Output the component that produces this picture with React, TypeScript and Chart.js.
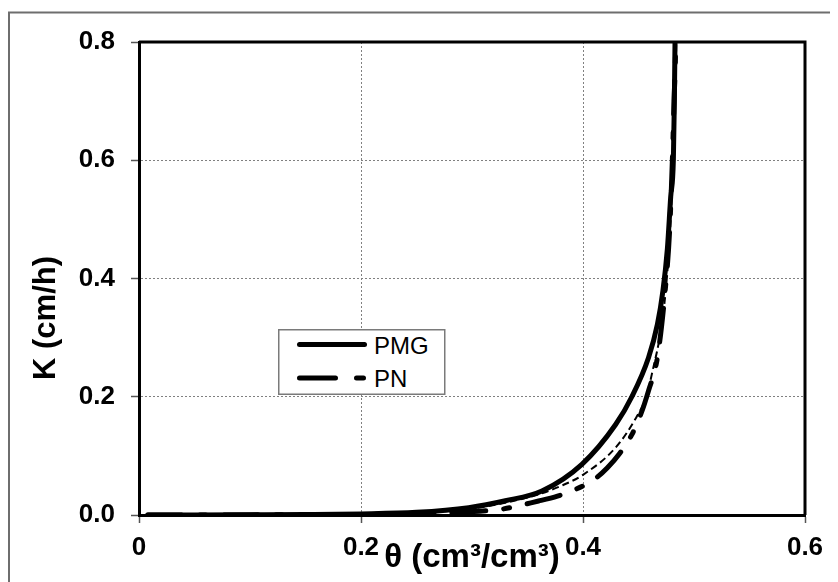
import React, { useEffect, useRef } from "react";
import { Chart, registerables } from "chart.js";

Chart.register(...registerables);

// ---- data ----
const seriesNames = ["PMG", "PN"];

const pmgTheta = [0.008, 0.05, 0.1, 0.15, 0.2, 0.25, 0.297, 0.33, 0.363, 0.399, 0.4294, 0.444, 0.459, 0.467, 0.472, 0.476, 0.479, 0.4814, 0.4823, 0.4829, 0.4833];
const pmgK = [0, 0.0001, 0.0004, 0.0008, 0.0018, 0.0045, 0.0124, 0.024, 0.0406, 0.0857, 0.153, 0.2, 0.266, 0.322, 0.379, 0.45, 0.538, 0.6, 0.7, 0.8, 0.9];

const pnTheta = [0.008, 0.1, 0.2, 0.25, 0.302, 0.326, 0.36, 0.377, 0.393, 0.41, 0.422, 0.433, 0.444, 0.452, 0.459, 0.467, 0.474, 0.478, 0.4805, 0.482, 0.4835, 0.484];
const pnK = [0, 0.0002, 0.001, 0.002, 0.006, 0.0096, 0.0237, 0.032, 0.043, 0.06, 0.08, 0.104, 0.136, 0.17, 0.21, 0.266, 0.379, 0.48, 0.6, 0.7, 0.8, 0.9];

const fitTheta = [0.008, 0.1, 0.2, 0.25, 0.3, 0.333, 0.36, 0.38, 0.4, 0.4294, 0.448, 0.457, 0.462, 0.471, 0.4755, 0.479, 0.481, 0.4825, 0.484, 0.4845];
const fitK = [0, 0.0003, 0.0015, 0.0035, 0.011, 0.022, 0.035, 0.049, 0.068, 0.114, 0.165, 0.2, 0.238, 0.323, 0.4, 0.5, 0.6, 0.7, 0.8, 0.9];

const xTicks = [0, 0.2, 0.4, 0.6];
const xTickLabels = ["0", "0.2", "0.4", "0.6"];
const yTicks = [0, 0.2, 0.4, 0.6, 0.8];
const yTickLabels = ["0.0", "0.2", "0.4", "0.6", "0.8"];

const xTitle = "θ (cm³/cm³)";
const yTitle = "K (cm/h)";

const FONT = '"Liberation Sans", Arial, sans-serif';

const toPoints = (xs: number[], ys: number[]) => xs.map((x, i) => ({ x, y: ys[i] }));
const labelFor = (ticks: number[], labels: string[], v: number) => {
  const i = ticks.findIndex((t) => Math.abs(t - v) < 1e-9);
  return i >= 0 ? labels[i] : "";
};

const framePlugin = {
  id: "frame",
  beforeDraw(chart: any) {
    const { ctx, width, height } = chart;
    ctx.save();
    ctx.fillStyle = "#ffffff";
    ctx.fillRect(0, 0, width, height);
    ctx.strokeStyle = "#6e6e6e";
    ctx.lineWidth = 2;
    ctx.strokeRect(1, 4.5, width + 20, height + 20);
    ctx.restore();
  },
  afterDatasetsDraw(chart: any) {
    const { ctx, chartArea } = chart;
    ctx.save();
    ctx.strokeStyle = "#000000";
    ctx.lineWidth = 3;
    ctx.beginPath();
    ctx.moveTo(chartArea.left, chartArea.top);
    ctx.lineTo(chartArea.right, chartArea.top);
    ctx.lineTo(chartArea.right, chartArea.bottom);
    ctx.stroke();
    ctx.restore();
  },
  afterDraw(chart: any) {
    const { ctx } = chart;
    ctx.save();
    ctx.translate(38, 310);
    ctx.rotate(-Math.PI / 2);
    ctx.font = `bold 31px ${FONT}`;
    ctx.fillStyle = "#000000";
    ctx.textAlign = "center";
    ctx.textBaseline = "middle";
    ctx.fillText(yTitle, 0, 0);
    ctx.restore();
  },
};

export default function App() {
  const ref = useRef<HTMLCanvasElement | null>(null);

  useEffect(() => {
    if (!ref.current) return;
    const chart = new Chart(ref.current, {
      type: "line",
      data: {
        datasets: [
          {
            label: seriesNames[0],
            data: toPoints(pmgTheta, pmgK),
            borderColor: "#000000",
            borderWidth: 5,
            borderCapStyle: "round",
            pointRadius: 0,
            cubicInterpolationMode: "monotone",
          },
          {
            label: seriesNames[1],
            data: toPoints(pnTheta, pnK),
            borderColor: "#000000",
            borderWidth: 5,
            borderCapStyle: "round",
            borderDash: [34, 18, 6, 18],
            pointRadius: 0,
            cubicInterpolationMode: "monotone",
          },
          {
            label: "",
            data: toPoints(fitTheta, fitK),
            borderColor: "#000000",
            borderWidth: 2,
            borderDash: [7, 4],
            pointRadius: 0,
            cubicInterpolationMode: "monotone",
          },
        ],
      },
      options: {
        responsive: false,
        animation: false,
        events: [],
        layout: { padding: { left: 0, top: 34, right: 33, bottom: 0 } },
        plugins: { legend: { display: false }, tooltip: { enabled: false }, title: { display: false } },
        scales: {
          x: {
            type: "linear",
            min: 0,
            max: 0.6,
            afterFit: (s: any) => {
              s.height = 67;
            },
            ticks: {
              stepSize: 0.2,
              color: "#000000",
              padding: 9,
              font: { family: FONT, size: 26, weight: "bold" },
              callback: (v: any) => labelFor(xTicks, xTickLabels, Number(v)),
            },
            grid: {
              color: "#808080",
              lineWidth: 1,
              tickLength: 8,
              tickColor: "#555555",
              tickWidth: 1.5,
              tickBorderDash: [],
            },
            border: { color: "#000000", width: 3, dash: [2, 2] },
            title: {
              display: true,
              text: xTitle,
              color: "#000000",
              font: { family: FONT, size: 33, weight: "bold" },
              padding: { top: 0, bottom: 4 },
            },
          },
          y: {
            type: "linear",
            min: 0,
            max: 0.8,
            afterFit: (s: any) => {
              s.width = 131;
            },
            ticks: {
              stepSize: 0.2,
              color: "#000000",
              padding: 16,
              font: { family: FONT, size: 26, weight: "bold" },
              callback: (v: any) => labelFor(yTicks, yTickLabels, Number(v)),
            },
            grid: {
              color: "#808080",
              lineWidth: 1,
              tickLength: 8,
              tickColor: "#555555",
              tickWidth: 1.5,
              tickBorderDash: [],
            },
            border: { color: "#000000", width: 3, dash: [2, 2] },
            title: { display: false },
          },
        },
      },
      plugins: [framePlugin],
    } as any);
    return () => chart.destroy();
  }, []);

  return (
    <div style={{ position: "relative", width: 830, height: 574 }}>
      <canvas ref={ref} width={830} height={574} style={{ display: "block" }} />
      <svg
        width={168}
        height={66}
        style={{ position: "absolute", left: 270, top: 321 }}
      >
        <rect x={0.75} y={0.75} width={166} height={64.5} fill="#ffffff" stroke="#7a7a7a" strokeWidth={1.5} />
        <line x1={21.5} y1={15.5} x2={86.5} y2={15.5} stroke="#000000" strokeWidth={5} strokeLinecap="round" />
        <line
          x1={21.5}
          y1={49}
          x2={86.5}
          y2={49}
          stroke="#000000"
          strokeWidth={5}
          strokeLinecap="round"
          strokeDasharray="36 21 7 50"
        />
        <text x={96} y={25} fontFamily={FONT} fontSize={24} fill="#000000">
          {seriesNames[0]}
        </text>
        <text x={96} y={58} fontFamily={FONT} fontSize={24} fill="#000000">
          {seriesNames[1]}
        </text>
      </svg>
    </div>
  );
}
